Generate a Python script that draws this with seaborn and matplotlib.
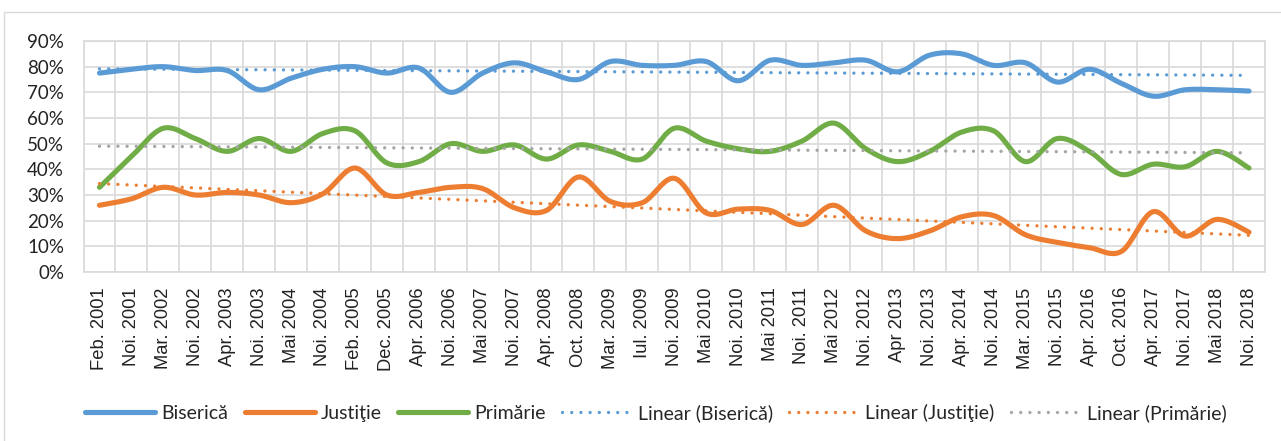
import numpy as np
import pandas as pd
import matplotlib
matplotlib.use("Agg")
import matplotlib.pyplot as plt
import seaborn as sns
from matplotlib.patches import Rectangle
from matplotlib.ticker import FixedLocator, FuncFormatter
from matplotlib.lines import Line2D

categories = ["Feb. 2001", "Noi. 2001", "Mar. 2002", "Noi. 2002", "Apr. 2003", "Noi. 2003",
              "Mai 2004", "Noi. 2004", "Feb. 2005", "Dec. 2005", "Apr. 2006", "Noi. 2006",
              "Mai 2007", "Noi. 2007", "Apr. 2008", "Oct. 2008", "Mar. 2009", "Iul. 2009",
              "Noi. 2009", "Mai 2010", "Noi. 2010", "Mai 2011", "Noi. 2011", "Mai 2012",
              "Noi. 2012", "Apr 2013", "Noi. 2013", "Apr. 2014", "Noi. 2014", "Mar. 2015",
              "Noi. 2015", "Apr. 2016", "Oct. 2016", "Apr. 2017", "Noi. 2017", "Mai 2018",
              "Noi. 2018"]

biserica = [77.5, 79, 80, 78.5, 78.5, 71, 75.5, 79, 80, 77.5, 79.5, 70, 77.5, 81.5, 78, 75,
            82, 80.5, 80.5, 82, 74.5, 82.5, 80.5, 81.5, 82.5, 78, 84.5, 85, 80.5, 81.5, 74,
            79, 73.5, 68.5, 71, 71, 70.5]
justitie = [26, 28.5, 33, 30, 31, 30, 27, 30.5, 40.5, 30, 31, 33, 32.5, 25, 24, 37, 27.5, 27,
            36.5, 23, 24.5, 24, 18.5, 26, 16, 13, 16, 21.5, 22, 14.5, 11.5, 9.5, 8, 23.5, 14,
            20.5, 15.5]
primarie = [33, 45, 56, 52, 47, 52, 47, 54, 55, 42.5, 43, 50, 47, 49.5, 44, 49.5, 47, 44, 56,
            51, 48, 47, 51, 58, 48, 43, 47, 54.5, 55, 43, 52, 47, 38, 42, 41, 47, 40.5]

series_names = ["Biserică", "Justiţie", "Primărie"]
series_values = [biserica, justitie, primarie]
line_colors = ["#5B9BD5", "#ED7D31", "#70AD47"]
trend_colors = ["#5B9BD5", "#ED7D31", "#A5A5A5"]
yticks = [0, 10, 20, 30, 40, 50, 60, 70, 80, 90]


def smooth(vals, n=24):
    y = np.asarray(vals, float)
    x = np.arange(len(y), dtype=float)
    P = np.column_stack([x, y])
    E = np.vstack([P[0], P, P[-1]])
    t = np.linspace(0, 1, n, endpoint=False)[:, None]
    segs = []
    for i in range(len(P) - 1):
        p0, p1, p2, p3 = E[i], E[i + 1], E[i + 2], E[i + 3]
        c1 = p1 + (p2 - p0) / 6.0
        c2 = p2 - (p3 - p1) / 6.0
        seg = ((1 - t) ** 3) * p1 + 3 * (1 - t) ** 2 * t * c1 + 3 * (1 - t) * t ** 2 * c2 + t ** 3 * p2
        segs.append(seg)
    segs.append(P[-1][None, :])
    return np.vstack(segs)


sns.set_style("white")
W, H = 1281, 441
fig = plt.figure(figsize=(W / 100, H / 100), dpi=100)
ax = fig.add_axes([83.5 / W, 1 - 272 / H, (1265 - 83.5) / W, (272 - 41) / H])

grid_c = "#D9D9D9"
x_idx = np.arange(len(categories))

for name, vals, col in zip(series_names, series_values, line_colors):
    sm = smooth(vals)
    df = pd.DataFrame({"x": sm[:, 0], "y": sm[:, 1]})
    sns.lineplot(data=df, x="x", y="y", ax=ax, color=col, linewidth=3.7,
                 sort=False, estimator=None, solid_capstyle="round", zorder=3)

for vals, col in zip(series_values, trend_colors):
    sns.regplot(x=x_idx.astype(float), y=np.asarray(vals, float), ax=ax, scatter=False,
                ci=None, truncate=True,
                line_kws=dict(color=col, linewidth=2.4, linestyle=(0, (0.01, 2.75)),
                              dash_capstyle="round", zorder=4))

ax.set_xlim(-0.5, len(categories) - 0.5)
ax.set_ylim(0, 90)
ax.set_xlabel("")
ax.set_ylabel("")

ax.xaxis.set_major_locator(FixedLocator(x_idx))
ax.xaxis.set_minor_locator(FixedLocator(np.arange(-0.5, len(categories), 1.0)))
ax.set_xticks(x_idx)
ax.set_xticklabels(categories, rotation=90, family=["Liberation Sans", "DejaVu Sans"],
                   fontsize=13.2, color="#222222")
ax.set_yticks(yticks)
ax.yaxis.set_major_formatter(FuncFormatter(lambda v, p: f"{int(round(v))}%"))
for lab in ax.get_yticklabels():
    lab.set_family(["Lato", "DejaVu Sans"])
    lab.set_fontsize(13.5)
    lab.set_color("#222222")

ax.tick_params(axis="x", which="both", length=0, pad=11)
ax.tick_params(axis="y", which="both", length=0, pad=14)
ax.grid(False)
ax.grid(True, axis="y", which="major", color=grid_c, linewidth=1.2)
ax.grid(True, axis="x", which="minor", color=grid_c, linewidth=1.2)
for s in ax.spines.values():
    s.set_visible(True)
    s.set_color(grid_c)
    s.set_linewidth(1.2)
ax.set_axisbelow(True)

handles = [Line2D([0], [0], color=c, linewidth=3.7, solid_capstyle="round") for c in line_colors]
handles += [Line2D([0], [0], color=c, linewidth=2.4, linestyle=(0, (0.01, 2.75)),
                   dash_capstyle="round") for c in trend_colors]
labels = series_names + [f"Linear ({n})" for n in series_names]
fig.legend(handles, labels, loc="center", bbox_to_anchor=(656 / W, 1 - 413 / H), ncol=6,
           frameon=False, prop={"family": ["Lato", "DejaVu Sans"], "size": 14},
           handlelength=3.6, handletextpad=0.3, columnspacing=0.85)

fig.patches.append(Rectangle((4 / W, -0.1), 1.2, 0.1 + 1 - 12 / H, transform=fig.transFigure,
                             fill=False, edgecolor=grid_c, linewidth=1.0, zorder=0))

fig.savefig("out.png", dpi=100, facecolor="white")
